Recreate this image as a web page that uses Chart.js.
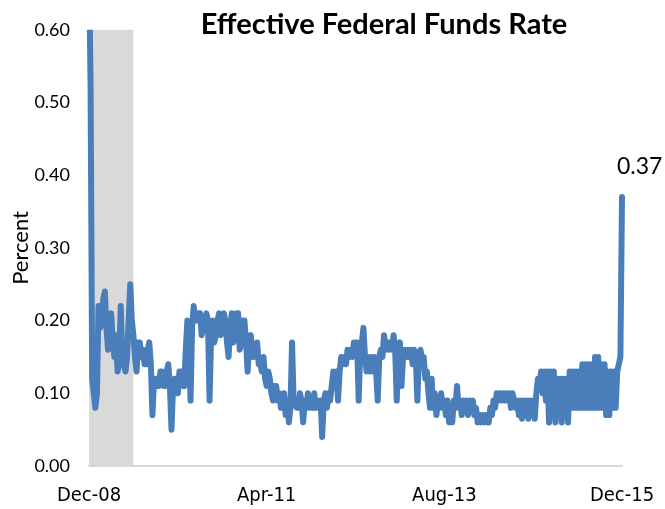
<!DOCTYPE html>
<html><head><meta charset="utf-8">
<script src="https://cdn.jsdelivr.net/npm/chart.js@4.4.0/dist/chart.umd.min.js"></script>
<style>html,body{margin:0;padding:0;background:#fff}#wrap{width:665px;height:509px}</style>
</head><body><div id="wrap"><canvas id="c" width="665" height="509"></canvas></div>
<script>
// Effective federal funds rate, weekly readings Dec 2008 - Dec 2015 (percent)
const rates = [
  0.70,0.52,0.12,0.10,0.08,0.10,0.22,0.19,0.20,0.23,0.24,0.19,0.16,0.20,0.21,0.17,
  0.15,0.18,0.13,0.14,0.22,0.15,0.14,0.13,0.15,0.20,0.25,0.20,0.18,
  0.15,0.13,0.17,0.17,0.15,0.16,0.14,0.14,0.16,0.17,0.14,0.07,0.12,0.12,0.11,0.11,
  0.13,0.13,0.11,0.11,0.13,0.14,0.11,0.05,0.11,0.12,0.10,0.10,0.13,0.13,0.11,0.11,
  0.16,0.20,0.19,0.09,0.19,0.22,0.20,0.20,0.21,0.21,
  0.18,0.19,0.20,0.21,0.20,0.09,0.18,0.20,0.17,0.18,0.20,0.21,0.18,0.19,0.21,0.20,
  0.17,0.15,0.19,0.21,0.17,0.18,0.21,0.21,0.16,0.17,0.20,0.20,0.17,0.13,0.17,0.18,
  0.15,0.16,0.15,0.17,0.14,0.14,0.13,0.15,0.12,0.11,0.13,0.12,0.10,0.09,0.11,0.11,
  0.09,0.10,0.08,0.08,0.10,0.07,0.09,0.06,0.08,0.17,0.09,0.09,0.08,0.08,
  0.10,0.09,0.06,0.09,0.08,0.10,0.08,0.09,0.08,0.10,0.08,0.09,0.08,0.09,0.04,0.09,
  0.10,0.08,0.10,0.09,0.11,0.13,0.11,0.13,0.09,0.13,0.15,0.14,0.15,0.14,0.16,0.15,
  0.16,0.15,0.17,0.16,0.17,0.09,0.16,0.17,0.19,0.15,0.13,0.15,0.13,0.15,0.13,0.15,
  0.13,0.09,0.15,0.16,0.15,0.18,0.16,0.17,0.16,0.17,0.16,0.18,0.16,0.09,0.16,0.17,
  0.11,0.15,0.16,0.15,0.16,0.15,0.16,0.14,0.16,0.15,0.09,0.15,0.16,0.14,0.15,0.12,
  0.13,0.10,0.08,0.12,0.08,0.10,0.07,0.09,0.08,0.10,0.08,0.09,0.07,0.09,0.06,0.08,
  0.06,0.09,0.08,0.11,0.08,0.09,0.07,0.09,0.08,0.09,0.07,0.09,0.08,0.09,0.07,0.08,
  0.06,0.07,0.06,0.07,0.06,0.07,0.06,0.06,0.08,0.07,0.09,0.08,0.10,0.09,0.10,0.09,
  0.10,0.09,0.10,0.09,0.10,0.08,0.10,0.09,0.08,0.09,0.07,0.09,0.065,0.09,0.07,0.09,
  0.065,0.09,0.07,0.09,0.065,0.10,0.12,0.11,0.13,0.10,0.13,0.09,0.13,0.06,0.13,0.09,
  0.13,0.06,0.12,0.08,0.12,0.06,0.12,0.08,0.12,0.06,0.13,0.08,0.13,0.08,0.13,0.08,
  0.13,0.08,0.14,0.08,0.14,0.08,0.14,0.08,0.14,0.08,0.15,0.08,0.15,0.08,0.14,0.08,
  0.14,0.07,0.13,0.07,0.13,0.08,0.13,0.08,0.13,0.14,0.15,0.37
];
// Category dates (weekly: 1st, 8th, 15th, 22nd of each month from Dec 2008)
const weekDays = [1, 8, 15, 22];
const dates = [];
for (let i = 0; i < rates.length; i++) {
  const mIdx = 11 + Math.floor(i / 4);
  const yr = 2008 + Math.floor(mIdx / 12);
  const mo = (mIdx % 12) + 1;
  dates.push(yr + '-' + String(mo).padStart(2, '0') + '-' + String(weekDays[i % 4]).padStart(2, '0'));
}
const tickDates = ['2008-12-01', '2011-04-01', '2013-08-01', '2015-12-01'];
const tickLabels = ['Dec-08', 'Apr-11', 'Aug-13', 'Dec-15'];
const recession = ['2008-12-01', '2009-07-01'];
const chartTitle = 'Effective Federal Funds Rate';

const shadePlugin = {
  id: 'shade',
  beforeDatasetsDraw(chart) {
    const {ctx, chartArea, scales: {x}} = chart;
    const x0 = x.getPixelForValue(dates.indexOf(recession[0]));
    const x1 = x.getPixelForValue(dates.indexOf(recession[1]));
    ctx.save();
    ctx.fillStyle = '#d9d9d9';
    ctx.fillRect(x0, chartArea.top, x1 - x0, chartArea.bottom - chartArea.top);
    ctx.restore();
  }
};
const labelPlugin = {
  id: 'lastLabel',
  afterDatasetsDraw(chart) {
    const {ctx} = chart;
    const meta = chart.getDatasetMeta(0);
    const pt = meta.data[meta.data.length - 1];
    const v = rates[rates.length - 1];
    ctx.save();
    ctx.fillStyle = '#000';
    ctx.font = '23px Lato';
    ctx.textAlign = 'left';
    ctx.textBaseline = 'alphabetic';
    ctx.fillText(v.toFixed(2), pt.x - 5, pt.y - 23);
    ctx.restore();
  }
};
const titlePlugin = {
  id: 'inTitle',
  afterDraw(chart) {
    const {ctx} = chart;
    ctx.save();
    ctx.fillStyle = '#000';
    ctx.font = 'bold 29px Lato';
    ctx.textAlign = 'center';
    ctx.textBaseline = 'middle';
    ctx.fillText(chartTitle, 384, 25);
    ctx.restore();
  }
};

new Chart(document.getElementById('c'), {
  type: 'line',
  data: {
    labels: dates,
    datasets: [{
      data: rates,
      borderColor: '#4a7ebb',
      borderWidth: 6,
      pointRadius: 0,
      tension: 0,
      borderJoinStyle: 'round',
      borderCapStyle: 'round',
      clip: {left: 5, top: 0, right: 5, bottom: 5}
    }]
  },
  options: {
    responsive: false,
    animation: false,
    devicePixelRatio: 1,
    layout: {padding: {left: 0, top: 26, right: 43, bottom: 0}},
    plugins: {legend: {display: false}, tooltip: {enabled: false}, title: {display: false}},
    scales: {
      x: {
        type: 'category',
        offset: false,
        grid: {display: false, drawTicks: true, tickLength: 14},
        border: {display: true, color: '#d9d9d9', width: 2},
        ticks: {
          autoSkip: false,
          maxRotation: 0,
          minRotation: 0,
          padding: 4,
          color: '#000',
          font: {family: "'Liberation Sans Narrow', 'DejaVu Sans Condensed', Roboto, sans-serif", size: 20},
          callback: function (val, idx) {
            const k = tickDates.indexOf(dates[idx]);
            return k >= 0 ? tickLabels[k] : '';
          }
        },
        afterFit(scale) { scale.height = 43; }
      },
      y: {
        min: 0,
        max: 0.6,
        grid: {display: false, drawTicks: false},
        border: {display: false},
        ticks: {
          stepSize: 0.1,
          padding: 19,
          color: '#000',
          font: {family: 'Lato', size: 18},
          callback: (v) => Number(v).toFixed(2)
        },
        title: {display: true, text: 'Percent', color: '#000', font: {family: 'Lato', size: 22}, padding: {top: 8, bottom: 0}},
        afterFit(scale) { scale.width = 89; }
      }
    }
  },
  plugins: [shadePlugin, labelPlugin, titlePlugin]
});
</script>
</body></html>
